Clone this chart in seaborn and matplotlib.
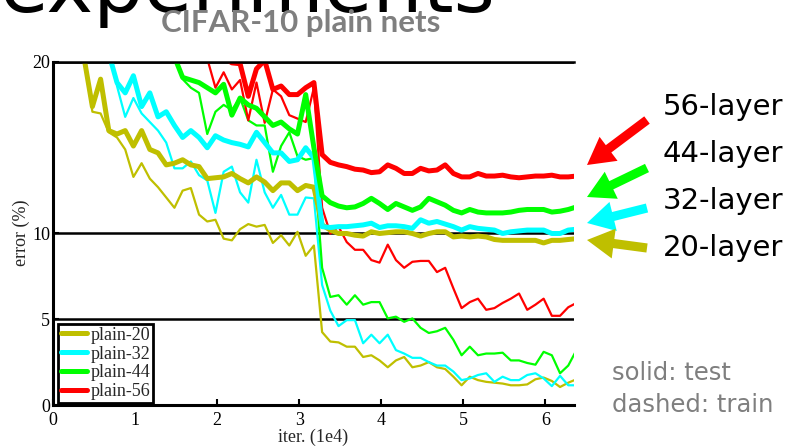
import numpy as np
import pandas as pd
import matplotlib
matplotlib.use("Agg")
import matplotlib.pyplot as plt
import seaborn as sns
from matplotlib.patches import FancyArrowPatch
from matplotlib.lines import Line2D

# ---------------- data ----------------
iters = np.round(0.38 + 0.1 * np.arange(61), 2)   # iterations (1e4)

nets = ["plain-20", "plain-32", "plain-44", "plain-56"]
colors = ["#BFBF00", "#00FFFF", "#00FF00", "#FF0000"]

# first index into `iters` for each curve (earlier values are off the chart)
start_test = [0, 3, 11, 17]
start_train = [0, 3, 11, 15]

test_20 = [20.2, 17.4, 19.0, 16.0, 15.8, 16.0, 15.1, 16.0, 14.9, 14.7, 14.0, 14.1, 14.3, 14.0, 13.9,
           13.2, 13.25, 13.3, 13.5, 13.2, 12.95, 13.3, 13.0, 12.5, 12.95, 12.95, 12.5, 12.8, 12.7,
           10.5, 10.2, 10.0, 10.0, 9.9, 9.85, 10.1, 10.0, 10.05, 10.1, 10.1, 10.0, 9.85, 10.0, 10.1,
           10.1, 9.8, 9.85, 9.8, 9.85, 9.8, 9.65, 9.6, 9.6, 9.6, 9.6, 9.6, 9.45, 9.6, 9.6, 9.65, 9.7]
train_20 = [20.2, 17.1, 17.0, 15.9, 15.6, 14.9, 13.3, 14.1, 13.2, 12.7, 12.1, 11.5, 12.5, 12.65, 11.1,
            10.7, 10.8, 9.7, 9.6, 10.25, 10.55, 10.4, 10.5, 9.45, 9.9, 9.3, 10.1, 8.7, 9.3,
            4.25, 3.7, 3.65, 3.4, 3.4, 2.8, 2.9, 2.6, 2.2, 2.6, 2.8, 2.2, 2.3, 2.5, 2.2, 2.1,
            1.65, 1.15, 1.65, 1.45, 1.35, 1.3, 1.25, 1.15, 1.15, 1.2, 1.5, 1.6, 1.4, 1.05, 1.3, 1.5]

test_32 = [20.5, 18.8, 18.2, 19.2, 17.4, 18.2, 16.8, 17.1, 16.3, 15.6, 16.0, 15.6, 15.0, 15.7, 15.45,
           15.3, 15.2, 15.05, 15.9, 15.3, 14.7, 14.7, 14.2, 14.3, 15.0, 14.4,
           10.4, 10.35, 10.4, 10.4, 10.45, 10.5, 10.6, 10.35, 10.45, 10.45, 10.4, 10.3, 10.8, 10.6,
           10.7, 10.55, 10.4, 10.2, 10.4, 10.3, 10.25, 10.2, 10.0, 10.1, 10.15, 10.2, 10.2, 10.2,
           10.0, 10.0, 10.2, 10.25]
train_32 = [20.5, 18.6, 16.8, 17.9, 17.0, 16.5, 16.0, 15.3, 13.8, 13.8, 14.2, 13.4, 13.1, 11.2, 13.6,
            13.9, 12.4, 11.8, 14.3, 12.4, 11.5, 12.25, 11.1, 11.1, 12.1, 12.05,
            7.0, 5.5, 4.6, 4.95, 4.95, 3.6, 4.1, 3.6, 4.1, 3.2, 3.0, 2.75, 2.75, 2.5, 2.3, 2.3,
            1.95, 1.45, 1.55, 1.75, 1.85, 1.35, 1.65, 1.45, 1.45, 1.75, 1.85, 1.55, 1.1, 1.7,
            1.15, 1.15]

test_44 = [20.3, 19.1, 18.95, 18.8, 18.5, 18.2, 18.7, 16.9, 17.9, 17.5, 17.3, 16.8, 16.3, 16.5, 16.1,
           15.8, 18.1, 15.0, 12.2, 11.8, 11.6, 11.5, 11.55, 11.75, 12.05, 11.75, 11.4, 11.75, 11.55,
           11.35, 11.55, 12.05, 11.85, 11.65, 11.35, 11.2, 11.4, 11.25, 11.2, 11.2, 11.2, 11.25,
           11.35, 11.4, 11.4, 11.4, 11.25, 11.3, 11.4, 11.55]
train_44 = [20.3, 19.0, 18.5, 18.2, 15.8, 17.1, 17.5, 17.2, 17.9, 16.6, 16.3, 16.3, 13.6, 15.1, 15.9,
            14.5, 14.3, 14.4, 8.0, 6.3, 6.4, 5.85, 6.4, 5.85, 6.0, 6.0, 5.05, 5.15, 4.85, 5.05, 4.5,
            4.2, 4.3, 4.5, 3.8, 2.9, 3.4, 2.9, 3.0, 3.0, 3.05, 2.6, 2.6, 2.45, 2.35, 3.1, 2.9,
            1.85, 2.3, 3.2]

test_56 = [20.3, 19.95, 19.9, 18.0, 19.6, 20.1, 18.4, 18.6, 18.1, 18.1, 18.5, 18.8,
           14.6, 14.15, 14.0, 13.9, 13.75, 13.7, 13.55, 13.6, 14.0, 13.8, 13.5, 13.5, 13.8, 13.65,
           13.7, 14.0, 13.5, 13.3, 13.3, 13.5, 13.35, 13.35, 13.4, 13.3, 13.25, 13.3, 13.35,
           13.35, 13.4, 13.3, 13.3, 13.35]
train_56 = [20.2, 18.5, 19.4, 18.4, 18.95, 16.6, 18.8, 16.45, 18.4, 18.0, 16.9, 16.7, 16.5, 18.5,
            11.5, 10.0, 10.4, 9.5, 9.05, 9.05, 8.45, 8.3, 9.35, 8.45, 8.0, 8.35, 8.4, 8.4, 7.75,
            8.0, 6.8, 5.65, 6.0, 6.2, 5.55, 5.65, 5.95, 6.2, 6.5, 5.55, 5.85, 6.2, 5.2, 5.2, 5.7, 5.95]

tests = [test_20, test_32, test_44, test_56]
trains = [train_20, train_32, train_44, train_56]

rows = []
for net, s0, vals in zip(nets, start_test, tests):
    for x, v in zip(iters[s0:s0 + len(vals)], vals):
        rows.append((net, "test", x, v))
for net, s0, vals in zip(nets, start_train, trains):
    for x, v in zip(iters[s0:s0 + len(vals)], vals):
        rows.append((net, "train", x, v))
df = pd.DataFrame(rows, columns=["net", "kind", "iter", "error"])

# ---------------- style ----------------
sns.set_style("white")
plt.rcParams["font.family"] = ["Liberation Serif", "DejaVu Serif"]

W, H = 788, 447
fig = plt.figure(figsize=(W / 100, H / 100), dpi=100)
ax = fig.add_axes([53 / W, 42 / H, 521 / W, 343 / H])

palette = dict(zip(nets, colors))
sns.lineplot(data=df[df.kind == "train"], x="iter", y="error", hue="net", hue_order=nets,
             palette=palette, linewidth=1.6, estimator=None, sort=False, legend=False, ax=ax)
sns.lineplot(data=df[df.kind == "test"], x="iter", y="error", hue="net", hue_order=nets,
             palette=palette, linewidth=3.6, estimator=None, sort=False, legend=False, ax=ax)

ax.set_xlim(0, 6.35)
ax.set_ylim(0, 20)
ax.set_xticks(range(7))
ax.set_yticks([0, 5, 10, 20])
ax.set_xlabel("")
ax.set_ylabel("")
ax.grid(axis="y", color="black", linewidth=1.8)
ax.grid(axis="x", visible=False)
ax.set_axisbelow(True)
for side in ["left", "bottom"]:
    ax.spines[side].set_color("black")
    ax.spines[side].set_linewidth(2.2)
ax.spines["top"].set_color("black")
ax.spines["top"].set_linewidth(1.8)
ax.spines["right"].set_visible(False)
ax.tick_params(axis="both", direction="in", length=4, width=1.5, labelsize=13, colors="black")
ax.tick_params(axis="x", pad=5, bottom=True, top=False)
ax.tick_params(axis="y", pad=2, left=True, right=False)

handles = [Line2D([], [], color=c, lw=3.6) for c in colors]
leg = ax.legend(handles, nets, loc="lower left", bbox_to_anchor=(0.0096, 0.006), borderaxespad=0,
                prop=dict(family="Liberation Serif", size=13), handlelength=1.45, handletextpad=0.2,
                labelspacing=0.1, borderpad=0.15, frameon=True, fancybox=False,
                edgecolor="black", framealpha=1)
leg.get_frame().set_linewidth(2)

# axis titles
fig.text(21 / W, 1 - 233 / H, "error (%)", rotation=90, ha="center", va="center",
         fontsize=13, family="Liberation Serif")
fig.text(313 / W, 1 - 437 / H, "iter. (1e4)", ha="center", va="center",
         fontsize=13, family="Liberation Serif")

# slide texts
fig.text(0.0, 1 - 12 / H, "experiments", ha="left", va="baseline", fontsize=57,
         family="DejaVu Sans", color="black")
fig.text(301 / W, 1 - 23 / H, "CIFAR-10 plain nets", ha="center", va="center", fontsize=22.5,
         family=["Lato", "DejaVu Sans"], fontweight="bold", color="#7F7F7F")

layer_labels = ["56-layer", "44-layer", "32-layer", "20-layer"]
baselines = [115, 162, 209, 256]
for lab, b in zip(layer_labels, baselines):
    fig.text(663 / W, 1 - b / H, lab, ha="left", va="baseline", fontsize=21,
             family="DejaVu Sans", color="black")

arrow_tails = [(647, 120), (647, 168), (647, 208), (647, 248)]
arrow_tips = [(587, 165), (587, 197), (587, 223), (587, 240)]
for c, (tx, ty), (hx, hy) in zip(colors[::-1], arrow_tails, arrow_tips):
    arr = FancyArrowPatch((tx / W, 1 - ty / H), (hx / W, 1 - hy / H), transform=fig.transFigure,
                          arrowstyle="simple,head_length=0.97,head_width=1.08,tail_width=0.33",
                          mutation_scale=20, color=c, shrinkA=0, shrinkB=0, lw=0)
    fig.add_artist(arr)

fig.text(612 / W, 1 - 380 / H, "solid: test", ha="left", va="baseline", fontsize=17.5,
         family="DejaVu Sans", color="#7F7F7F")
fig.text(612 / W, 1 - 412 / H, "dashed: train", ha="left", va="baseline", fontsize=17.5,
         family="DejaVu Sans", color="#7F7F7F")

fig.savefig("out.png", dpi=100)
